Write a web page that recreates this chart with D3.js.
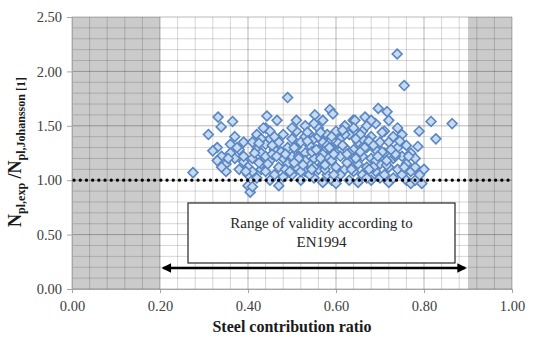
<!DOCTYPE html>
<html>
<head>
<meta charset="utf-8">
<script src="https://cdn.jsdelivr.net/npm/d3@7"></script>
<style>
  body { margin: 0; background: #fff; }
</style>
</head>
<body>
<svg id="chart" width="533" height="340"></svg>
<script>
// steel contribution ratio (x) and N_pl,exp / N_pl,Johansson (y)
const ratio = [
  0.275, 0.31, 0.332, 0.339, 0.365, 0.33, 0.34, 0.35, 0.32, 0.36, 0.35, 0.37, 0.36, 0.34, 0.33, 0.38, 0.37, 0.38, 0.39, 0.39,
  0.40, 0.40, 0.405, 0.41, 0.40, 0.41, 0.42, 0.41, 0.42, 0.43, 0.43, 0.44, 0.44, 0.45, 0.45, 0.46, 0.46, 0.443, 0.466, 0.42,
  0.43, 0.44, 0.45, 0.39, 0.47, 0.47, 0.47, 0.48, 0.48, 0.48, 0.49, 0.49, 0.49, 0.44, 0.41, 0.43, 0.46, 0.45,
  0.50, 0.50, 0.50, 0.51, 0.51, 0.51, 0.52, 0.52, 0.52, 0.53, 0.53, 0.53, 0.54, 0.54, 0.54, 0.55, 0.55, 0.55, 0.552, 0.56,
  0.56, 0.56, 0.57, 0.57, 0.57, 0.57, 0.58, 0.58, 0.58, 0.586, 0.593, 0.59, 0.59, 0.59, 0.60, 0.60, 0.60, 0.60, 0.51, 0.53,
  0.55, 0.58, 0.52, 0.54, 0.56, 0.57, 0.59, 0.55, 0.53, 0.50,
  0.61, 0.61, 0.61, 0.62, 0.62, 0.62, 0.63, 0.63, 0.63, 0.639, 0.643, 0.64, 0.64, 0.65, 0.65, 0.65, 0.66, 0.66, 0.666, 0.66,
  0.67, 0.67, 0.67, 0.68, 0.68, 0.68, 0.69, 0.69, 0.69, 0.70, 0.70, 0.696, 0.70, 0.62, 0.64, 0.66, 0.68, 0.63, 0.67, 0.69,
  0.71, 0.71, 0.71, 0.716, 0.72, 0.72, 0.72, 0.73, 0.73, 0.73, 0.74, 0.74, 0.739, 0.755, 0.75, 0.75, 0.75, 0.76, 0.76, 0.76,
  0.77, 0.77, 0.77, 0.78, 0.78, 0.786, 0.789, 0.79, 0.795, 0.80, 0.816, 0.827, 0.864, 0.74, 0.72, 0.78,
  0.425, 0.455, 0.475, 0.505, 0.525, 0.545, 0.565, 0.585, 0.605, 0.625, 0.645, 0.665, 0.685, 0.705, 0.725, 0.745, 0.765,
  0.435, 0.485, 0.515, 0.535, 0.575, 0.615, 0.655, 0.675, 0.715, 0.735,
  0.415, 0.445, 0.465, 0.495, 0.515, 0.535, 0.555, 0.575, 0.595, 0.615, 0.635, 0.655, 0.675, 0.695, 0.715, 0.735, 0.755,
  0.425, 0.455, 0.485, 0.505, 0.545, 0.565, 0.595, 0.625, 0.645, 0.685, 0.705, 0.725, 0.375, 0.395, 0.355
];
const resistance = [
  1.07, 1.42, 1.58, 1.49, 1.54, 1.30, 1.22, 1.15, 1.27, 1.33, 1.08, 1.20, 1.25, 1.12, 1.18, 1.10, 1.40, 1.28, 1.35, 1.17,
  1.05, 0.95, 0.89, 0.94, 1.12, 1.20, 1.28, 1.35, 1.42, 1.10, 1.25, 1.33, 1.48, 1.38, 1.18, 1.05, 1.28, 1.59, 1.55, 1.02,
  1.15, 1.22, 1.45, 1.22, 0.95, 1.12, 1.35, 1.42, 1.20, 1.03, 1.30, 1.76, 1.15, 1.08, 1.08, 1.38, 1.40, 1.00,
  1.05, 1.22, 1.38, 1.12, 1.30, 1.45, 1.00, 1.18, 1.35, 1.08, 1.25, 1.50, 1.15, 1.32, 1.42, 1.02, 1.20, 1.38, 1.60, 1.10,
  1.28, 1.48, 0.98, 1.15, 1.35, 1.55, 1.05, 1.22, 1.42, 1.65, 1.61, 1.00, 1.18, 1.30, 1.12, 1.25, 1.45, 0.97, 1.55, 1.40,
  1.52, 1.32, 1.08, 1.05, 1.40, 1.24, 1.40, 1.12, 1.18, 1.48,
  1.05, 1.22, 1.38, 1.10, 1.30, 1.50, 1.00, 1.18, 1.42, 1.55, 1.55, 1.08, 1.28, 1.15, 1.35, 0.98, 1.05, 1.22, 1.58, 1.45,
  1.12, 1.30, 1.50, 1.00, 1.20, 1.40, 1.08, 1.28, 1.52, 1.15, 1.35, 1.66, 1.02, 1.42, 1.48, 1.38, 1.55, 1.25, 1.02, 1.18,
  1.05, 1.25, 1.45, 1.63, 1.12, 1.35, 0.98, 1.20, 1.40, 1.02, 1.10, 1.30, 2.16, 1.87, 1.05, 1.22, 1.42, 1.00, 1.15, 1.32,
  1.08, 1.25, 0.97, 1.00, 1.12, 1.31, 1.45, 1.05, 0.97, 1.10, 1.54, 1.38, 1.52, 1.48, 1.55, 1.20,
  1.16, 1.24, 1.26, 1.30, 1.14, 1.26, 1.20, 1.30, 1.34, 1.16, 1.20, 1.30, 1.12, 1.26, 1.28, 1.36, 1.22,
  1.48, 1.10, 1.22, 1.44, 1.10, 1.46, 1.42, 1.10, 1.14, 1.22,
  1.25, 1.15, 1.22, 1.08, 1.20, 1.36, 1.28, 1.14, 1.24, 1.32, 1.10, 1.26, 1.36, 1.22, 1.18, 1.24, 1.12,
  1.34, 1.32, 1.24, 1.16, 1.10, 1.44, 1.05, 1.24, 1.38, 1.32, 1.44, 1.28, 1.30, 1.08, 1.20
];

const xTicks = [0, 0.2, 0.4, 0.6, 0.8, 1.0];
const yTicks = [0, 0.5, 1.0, 1.5, 2.0, 2.5];
const shadedRanges = [[0, 0.2], [0.9, 1.0]];
const referenceLevel = 1.0;
const validityRange = [0.21, 0.9];
const noteLines = ['Range of validity according to', 'EN1994'];
const xTitle = 'Steel contribution ratio';

const serif = '"Liberation Serif", "Times New Roman", "DejaVu Serif", serif';

const svg = d3.select('#chart');
const margin = { left: 72, right: 21, top: 17, bottom: 51 };
const width = 533 - margin.left - margin.right;
const height = 340 - margin.top - margin.bottom;

const x = d3.scaleLinear().domain([0, 1]).range([margin.left, margin.left + width]);
const y = d3.scaleLinear().domain([0, 2.5]).range([margin.top + height, margin.top]);

// shaded zones outside validity
svg.append('g').selectAll('rect')
  .data(shadedRanges)
  .enter().append('rect')
  .attr('x', d => x(d[0]))
  .attr('width', d => x(d[1]) - x(d[0]))
  .attr('y', y(2.5))
  .attr('height', y(0) - y(2.5))
  .attr('fill', '#cbcbcb');

// grid (translucent so it shows darker over the grey zones)
const grid = svg.append('g');
const minorX = d3.range(0, 1.0001, 0.04);
const minorY = d3.range(0, 2.5001, 0.1);
const isMajor = (d, step) => Math.abs(d / step - Math.round(d / step)) < 1e-6;
grid.selectAll('line.vx')
  .data(minorX)
  .enter().append('line')
  .attr('x1', d => x(d)).attr('x2', d => x(d))
  .attr('y1', y(0)).attr('y2', y(2.5))
  .attr('stroke', d => isMajor(d, 0.2) ? 'rgba(0,0,0,0.28)' : 'rgba(0,0,0,0.16)')
  .attr('stroke-width', 1);
grid.selectAll('line.hy')
  .data(minorY)
  .enter().append('line')
  .attr('y1', d => y(d)).attr('y2', d => y(d))
  .attr('x1', x(0)).attr('x2', x(1))
  .attr('stroke', d => isMajor(d, 0.5) ? 'rgba(0,0,0,0.28)' : 'rgba(0,0,0,0.16)')
  .attr('stroke-width', 1);

// axes
const xAxis = d3.axisBottom(x).tickValues(xTicks).tickFormat(d3.format('.2f')).tickSize(4).tickPadding(8);
const yAxis = d3.axisLeft(y).tickValues(yTicks).tickFormat(d3.format('.2f')).tickSize(5).tickPadding(5);

const gx = svg.append('g').attr('transform', `translate(0,${y(0)})`).call(xAxis);
const gy = svg.append('g').attr('transform', `translate(${x(0)},0)`).call(yAxis);
[gx, gy].forEach(g => {
  g.attr('font-family', serif);
  g.select('.domain').attr('stroke', '#a6a6a6');
  g.selectAll('.tick line').attr('stroke', '#a6a6a6');
  g.selectAll('.tick text')
    .attr('fill', '#404040')
    .style('font-family', serif)
    .style('font-size', '14.5px');
});

// points
const diamond = d3.symbol().type(d3.symbolDiamond2).size(62);
const pts = ratio.map((r, i) => [r, resistance[i]]);
svg.append('g').selectAll('path')
  .data(pts)
  .enter().append('path')
  .attr('d', diamond)
  .attr('transform', d => `translate(${x(d[0])},${y(d[1])})`)
  .attr('fill', '#c6daf2')
  .attr('stroke', '#5a86c2')
  .attr('stroke-width', 1.6);

// dotted reference line at 1.0
svg.append('line')
  .attr('x1', x(0) + 2).attr('x2', x(1))
  .attr('y1', y(referenceLevel)).attr('y2', y(referenceLevel))
  .attr('stroke', '#000')
  .attr('stroke-width', 3.2)
  .attr('stroke-linecap', 'round')
  .attr('stroke-dasharray', '0.1 6.1');

// annotation box
const boxX0 = 188, boxX1 = 455, boxY0 = 203, boxY1 = 263;
svg.append('rect')
  .attr('x', boxX0).attr('y', boxY0)
  .attr('width', boxX1 - boxX0).attr('height', boxY1 - boxY0)
  .attr('fill', '#fff')
  .attr('stroke', '#262626')
  .attr('stroke-width', 1.2);
svg.append('g').selectAll('text')
  .data(noteLines)
  .enter().append('text')
  .attr('x', (boxX0 + boxX1) / 2)
  .attr('y', (d, i) => 228 + i * 19)
  .attr('text-anchor', 'middle')
  .attr('fill', '#262626')
  .style('font-family', serif)
  .style('font-size', '15px')
  .text(d => d);

// double arrow
const defs = svg.append('defs');
defs.append('marker')
  .attr('id', 'arr')
  .attr('viewBox', '0 0 10 10')
  .attr('refX', 8).attr('refY', 5)
  .attr('markerWidth', 5).attr('markerHeight', 4)
  .attr('orient', 'auto-start-reverse')
  .append('path').attr('d', 'M0,0 L10,5 L0,10 Z').attr('fill', '#000');
svg.append('line')
  .attr('x1', x(validityRange[0]) - 1).attr('x2', x(validityRange[1]) - 3)
  .attr('y1', 268).attr('y2', 268)
  .attr('stroke', '#000')
  .attr('stroke-width', 2.4)
  .attr('marker-start', 'url(#arr)')
  .attr('marker-end', 'url(#arr)');

// axis titles
svg.append('text')
  .attr('x', x(0.5))
  .attr('y', 332)
  .attr('text-anchor', 'middle')
  .attr('fill', '#1a1a1a')
  .style('font-family', serif)
  .style('font-size', '16px')
  .style('font-weight', 'bold')
  .text(xTitle);

const yt = svg.append('text')
  .attr('transform', 'translate(21,152) rotate(-90)')
  .attr('text-anchor', 'middle')
  .attr('fill', '#1a1a1a')
  .style('font-family', serif)
  .style('font-weight', 'bold')
  .style('font-size', '18px');
yt.append('tspan').text('N');
yt.append('tspan').attr('dy', 4).style('font-size', '12px').text('pl,exp');
yt.append('tspan').attr('dy', -4).style('font-size', '18px').text(' /N');
yt.append('tspan').attr('dy', 4).style('font-size', '12px').text('pl,Johansson [1]');
</script>
</body>
</html>
